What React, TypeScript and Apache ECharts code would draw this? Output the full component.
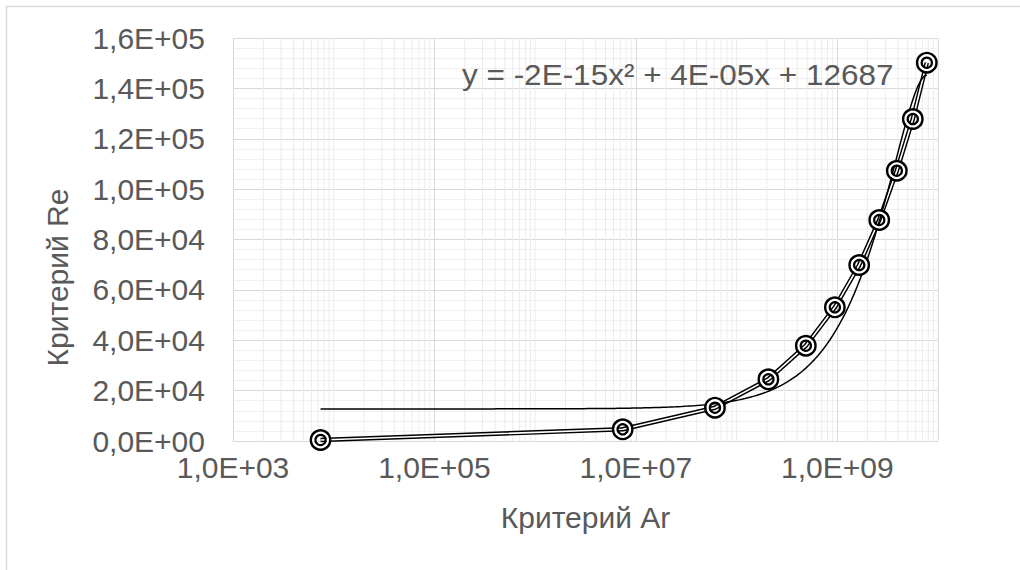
import React, { useEffect, useRef } from 'react';
import * as echarts from 'echarts';

// ---- data ----
const arValues: number[] = [7.4e3, 7.4e6, 6.1e7, 2.07e8, 4.87e8, 9.46e8, 1.65e9, 2.61e9, 3.9e9, 5.62e9, 7.74e9];
const reValues: number[] = [400, 4650, 13220, 24500, 37830, 53080, 69870, 87740, 107300, 127830, 150190];
const xMin = 1e3;
const xMax = 1e10;
const yMin = 0;
const yMax = 160000;
const yStep = 20000;
const trendLabel = 'y = -2E-15x² + 4E-05x + 12687';
const xTitle = 'Критерий Ar';
const yTitle = 'Критерий Re';

const FONT = '"Liberation Sans", Arial, sans-serif';
const TEXT = '#595959';
const FS = 30;

function sci(v: number): string {
  if (v === 0) return '0,0E+00';
  let e = Math.floor(Math.log10(Math.abs(v)) + 1e-9);
  let m = v / Math.pow(10, e);
  let ms = m.toFixed(1);
  if (ms === '10.0') { e += 1; ms = '1.0'; }
  return ms.replace('.', ',') + 'E' + (e < 0 ? '-' : '+') + String(Math.abs(e)).padStart(2, '0');
}

// least-squares quadratic (Excel polynomial trendline, order 2)
function quadFit(xs: number[], ys: number[]) {
  const sc = 1e9;
  const s = xs.map((x) => x / sc);
  const S = [0, 0, 0, 0, 0];
  const T = [0, 0, 0];
  s.forEach((v, i) => {
    for (let k = 0; k < 5; k++) S[k] += Math.pow(v, k);
    for (let k = 0; k < 3; k++) T[k] += ys[i] * Math.pow(v, k);
  });
  const A = [
    [S[0], S[1], S[2], T[0]],
    [S[1], S[2], S[3], T[1]],
    [S[2], S[3], S[4], T[2]],
  ];
  for (let i = 0; i < 3; i++) {
    let p = i;
    for (let r = i + 1; r < 3; r++) if (Math.abs(A[r][i]) > Math.abs(A[p][i])) p = r;
    [A[i], A[p]] = [A[p], A[i]];
    for (let r = 0; r < 3; r++) {
      if (r === i) continue;
      const f = A[r][i] / A[i][i];
      for (let c = i; c < 4; c++) A[r][c] -= f * A[i][c];
    }
  }
  const c = [A[0][3] / A[0][0], A[1][3] / A[1][1], A[2][3] / A[2][2]];
  return (x: number) => { const v = x / sc; return c[0] + c[1] * v + c[2] * v * v; };
}

export default function App() {
  const ref = useRef<HTMLDivElement>(null);
  useEffect(() => {
    if (!ref.current) return;
    const chart = echarts.init(ref.current, undefined, { renderer: 'svg' });
    const fit = quadFit(arValues, reValues);
    const lo = Math.log10(Math.min(...arValues));
    const hi = Math.log10(Math.max(...arValues));
    const trend: number[][] = [];
    for (let i = 0; i <= 200; i++) {
      const x = Math.pow(10, lo + ((hi - lo) * i) / 200);
      trend.push([x, fit(x)]);
    }
    const minorX: number[][] = [];
    for (let e = 3; e <= 9; e++) {
      for (let k = 1; k <= 9; k++) {
        if (k === 1 && e % 2 === 1) continue;
        minorX.push([k * Math.pow(10, e), 0]);
      }
    }
    minorX.push([1e10, 0]);
    const pts = arValues.map((x, i) => [x, reValues[i]]);
    const ring = (size: number, color: string, width: number, z: number) => ({
      type: 'scatter', data: pts, symbol: 'circle', symbolSize: size, silent: true, z,
      itemStyle: { color: 'none', opacity: 1, borderColor: color, borderWidth: width },
    });

    chart.setOption({
      animation: false,
      backgroundColor: '#ffffff',
      grid: { left: 233, right: 82, top: 38, bottom: 129 },
      xAxis: {
        type: 'log',
        logBase: 10,
        min: xMin,
        max: xMax,
        interval: 2,
        name: xTitle,
        nameLocation: 'middle',
        nameGap: 61,
        nameTextStyle: { fontFamily: FONT, fontSize: FS, color: TEXT },
        axisLine: { show: true, lineStyle: { color: '#d9d9d9' } },
        axisTick: { show: false },
        axisLabel: { margin: 11, fontFamily: FONT, fontSize: FS, color: TEXT, formatter: (v: number) => sci(v) },
        splitLine: { show: true, lineStyle: { color: '#d9d9d9', width: 1 } },
      },
      yAxis: {
        type: 'value',
        min: yMin,
        max: yMax,
        interval: yStep,
        name: yTitle,
        nameLocation: 'middle',
        nameGap: 161,
        nameTextStyle: { fontFamily: FONT, fontSize: FS, color: TEXT, padding: [0, 76, 0, 0] },
        axisLine: { show: false },
        axisTick: { show: false },
        axisLabel: { margin: 28, fontFamily: FONT, fontSize: FS, color: TEXT, formatter: (v: number) => sci(v) },
        splitLine: { show: true, lineStyle: { color: '#d9d9d9', width: 1 } },
        minorTick: { show: false, splitNumber: 5 },
        minorSplitLine: { show: true, lineStyle: { color: '#f0f0f0', width: 1 } },
      },
      graphic: [
        { type: 'rect', z: 0, shape: { x: 6.5, y: 6.5, width: 1200, height: 800 }, style: { fill: 'none', stroke: '#d9d9d9', lineWidth: 1.5 }, silent: true },
        { type: 'text', z: 100, x: 462, y: 60, scaleX: 1.05, style: { text: trendLabel, fontFamily: FONT, fontSize: FS, fill: TEXT } },
      ],
      series: [
        {
          type: 'custom',
          silent: true,
          z: 1,
          data: minorX,
          encode: { x: 0, y: 1 },
          renderItem: (params: any, api: any) => {
            const x = api.value(0);
            const a = api.coord([x, yMax]);
            const b = api.coord([x, yMin]);
            return { type: 'line', shape: { x1: a[0], y1: a[1], x2: b[0], y2: b[1] }, style: { stroke: '#ececec', lineWidth: 1 } };
          },
        },
        { type: 'line', data: pts, showSymbol: false, lineStyle: { color: '#000', width: 4.5 }, z: 3, silent: true },
        { type: 'line', data: pts, showSymbol: false, lineStyle: { color: '#fff', width: 1.6 }, z: 4, silent: true },
        { type: 'line', data: trend, showSymbol: false, lineStyle: { color: '#000', width: 1.5 }, z: 5, silent: true },
        ring(14.6, '#fff', 2.6, 6),
        ring(19.4, '#000', 2.4, 7),
        ring(10.2, '#000', 2.2, 8),
      ],
    });
    return () => chart.dispose();
  }, []);
  return <div ref={ref} style={{ position: 'fixed', left: 0, top: 0, width: 1020, height: 570, background: '#fff' }} />;
}
